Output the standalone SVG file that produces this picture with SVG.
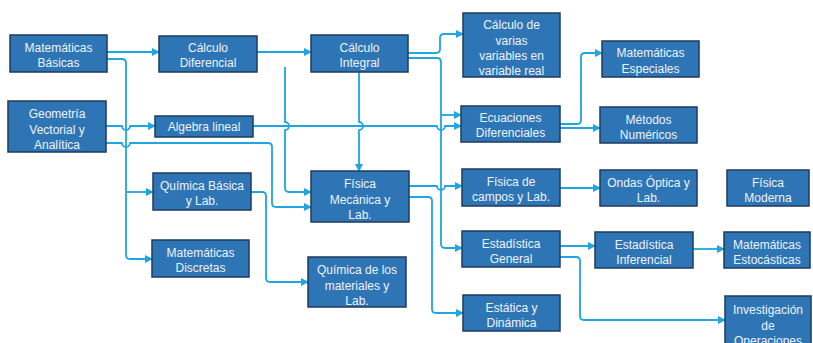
<svg xmlns="http://www.w3.org/2000/svg" width="813" height="343" viewBox="0 0 813 343">
<style>
.b rect{fill:#2E75B6;stroke:#1F3A5F;stroke-width:1.5}
.b text{font-family:"Liberation Sans",Arial,sans-serif;font-size:12px;fill:#EEF3FA;text-anchor:middle}
.c path{fill:none;stroke:#1FA5DF;stroke-width:1.8;stroke-linejoin:round}
</style>
<defs>
<marker id="ah" markerUnits="userSpaceOnUse" markerWidth="8" markerHeight="8" refX="7" refY="4" orient="auto">
<path d="M0,0 L8,4 L0,8 Z" fill="#1FA5DF"/>
</marker>
</defs>
<rect width="813" height="343" fill="#fff"/>
<g class="c">
<path d="M107,52 H159" marker-end="url(#ah)"/>
<path d="M107,59 H122 Q126,59 126,63 V255 Q126,259 130,259 H152" marker-end="url(#ah)"/>
<path d="M126,192 H153" marker-end="url(#ah)"/>
<path d="M106,126 H122 a4,4 0 0 0 8,0 H155" marker-end="url(#ah)"/>
<path d="M106,143 H122 a4,4 0 0 0 8,0 H268 Q272,143 272,147 V203 Q272,207 276,207 H311" marker-end="url(#ah)"/>
<path d="M257,52 H311" marker-end="url(#ah)"/>
<path d="M285,67 V122 a4,4 0 0 1 0,8 V188 Q285,192 289,192 H311" marker-end="url(#ah)"/>
<path d="M253,126 H437 a4,4 0 0 0 8,0 H461" marker-end="url(#ah)"/>
<path d="M359,72 V122 a4,4 0 0 1 0,8 V171" marker-end="url(#ah)"/>
<path d="M408,53 H436 Q440,53 440,49 V38 Q440,34 444,34 H463" marker-end="url(#ah)"/>
<path d="M408,58 H437 Q441,58 441,62 V244 Q441,248 445,248 H462" marker-end="url(#ah)"/>
<path d="M441,115 H461" marker-end="url(#ah)"/>
<path d="M251,192 H262 Q266,192 266,196 V278 Q266,282 270,282 H308" marker-end="url(#ah)"/>
<path d="M409,186 H437 a4,4 0 0 0 8,0 H462" marker-end="url(#ah)"/>
<path d="M409,197 H428 Q432,197 432,201 V309 Q432,313 436,313 H463" marker-end="url(#ah)"/>
<path d="M560,124 H577 Q581,124 581,120 V57 Q581,53 585,53 H602" marker-end="url(#ah)"/>
<path d="M560,128 H600" marker-end="url(#ah)"/>
<path d="M560,188 H600" marker-end="url(#ah)"/>
<path d="M560,246 H595" marker-end="url(#ah)"/>
<path d="M560,257 H576 Q580,257 580,261 V316 Q580,320 584,320 H725" marker-end="url(#ah)"/>
<path d="M693,249 H724" marker-end="url(#ah)"/>
</g>
<g id="mb" class="b"><rect x="10" y="35" width="97" height="37"/><text x="58.5" y="52">Matemáticas</text><text x="58.5" y="67">Básicas</text></g>
<g id="cd" class="b"><rect x="159" y="36" width="98" height="36"/><text x="208" y="52">Cálculo</text><text x="208" y="67">Diferencial</text></g>
<g id="gva" class="b"><rect x="8" y="101" width="98" height="51"/><text x="57" y="118">Geometría</text><text x="57" y="133.5">Vectorial y</text><text x="57" y="149">Analítica</text></g>
<g id="al" class="b"><rect x="155" y="116" width="98" height="21"/><text x="204" y="131">Algebra lineal</text></g>
<g id="ci" class="b"><rect x="311" y="35" width="97" height="37"/><text x="359.5" y="52">Cálculo</text><text x="359.5" y="67">Integral</text></g>
<g id="cvv" class="b"><rect x="463" y="13" width="97" height="64"/><text x="511.5" y="29">Cálculo de</text><text x="511.5" y="44.5">varias</text><text x="511.5" y="60">variables en</text><text x="511.5" y="75">variable real</text></g>
<g id="ed" class="b"><rect x="461" y="106" width="99" height="36"/><text x="510.5" y="122">Ecuaciones</text><text x="510.5" y="137">Diferenciales</text></g>
<g id="mesp" class="b"><rect x="602" y="41" width="97" height="36"/><text x="650.5" y="57">Matemáticas</text><text x="650.5" y="73">Especiales</text></g>
<g id="mn" class="b"><rect x="600" y="107" width="97" height="36"/><text x="648.5" y="124">Métodos</text><text x="648.5" y="139">Numéricos</text></g>
<g id="qb" class="b"><rect x="153" y="173" width="98" height="37"/><text x="202" y="190">Química Básica</text><text x="202" y="205">y Lab.</text></g>
<g id="md" class="b"><rect x="152" y="240" width="97" height="37"/><text x="200.5" y="257">Matemáticas</text><text x="200.5" y="272">Discretas</text></g>
<g id="fm" class="b"><rect x="311" y="171" width="98" height="51"/><text x="360" y="188">Física</text><text x="360" y="203.5">Mecánica y</text><text x="360" y="219">Lab.</text></g>
<g id="fc" class="b"><rect x="462" y="169" width="98" height="37"/><text x="511" y="186">Física de</text><text x="511" y="201">campos y Lab.</text></g>
<g id="oo" class="b"><rect x="600" y="170" width="97" height="36"/><text x="648.5" y="187">Ondas Óptica y</text><text x="648.5" y="202">Lab.</text></g>
<g id="fmod" class="b"><rect x="727" y="170" width="82" height="36"/><text x="768" y="187">Física</text><text x="768" y="202">Moderna</text></g>
<g id="eg" class="b"><rect x="462" y="231" width="98" height="36"/><text x="511" y="248">Estadística</text><text x="511" y="263">General</text></g>
<g id="ei" class="b"><rect x="595" y="232" width="98" height="36"/><text x="644" y="249">Estadística</text><text x="644" y="264">Inferencial</text></g>
<g id="mest" class="b"><rect x="724" y="232" width="86" height="36"/><text x="767" y="249">Matemáticas</text><text x="767" y="264">Estocásticas</text></g>
<g id="qm" class="b"><rect x="308" y="257" width="98" height="50"/><text x="357" y="274">Química de los</text><text x="357" y="289.5">materiales y</text><text x="357" y="305">Lab.</text></g>
<g id="esd" class="b"><rect x="463" y="295" width="97" height="36"/><text x="511.5" y="312">Estática y</text><text x="511.5" y="327">Dinámica</text></g>
<g id="io" class="b"><rect x="725" y="296" width="86" height="60"/><text x="768" y="314">Investigación</text><text x="768" y="330">de</text><text x="768" y="345">Operaciones</text></g>
</svg>
